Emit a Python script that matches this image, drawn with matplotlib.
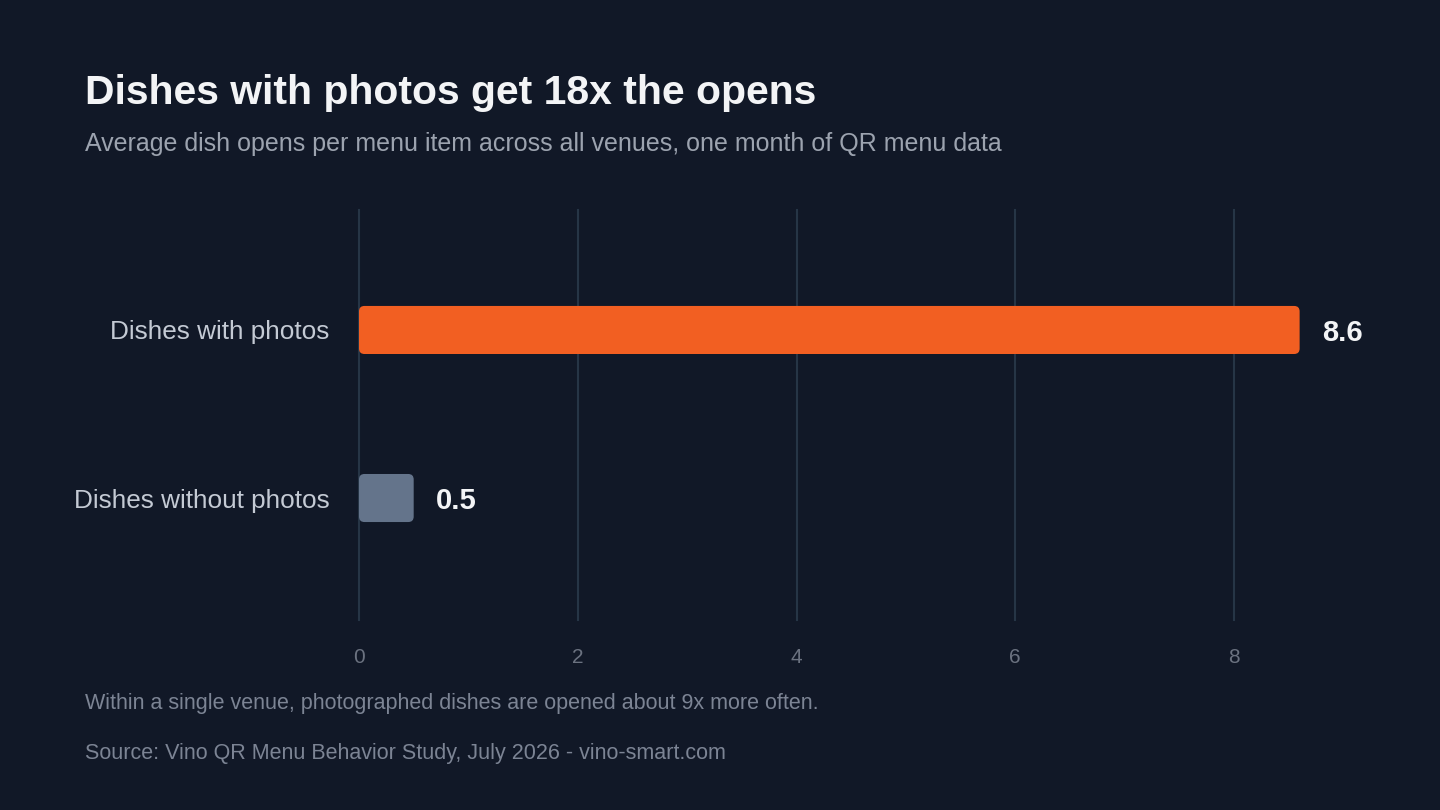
import matplotlib
matplotlib.use("Agg")
import matplotlib.pyplot as plt
from matplotlib.patches import FancyBboxPatch

# chart data
categories = ["Dishes with photos", "Dishes without photos"]
values = [8.6, 0.5]
value_labels = ["8.6", "0.5"]
bar_colors = ["#F25F22", "#64748B"]
x_ticks = [0, 2, 4, 6, 8]

title = "Dishes with photos get 18x the opens"
subtitle = "Average dish opens per menu item across all venues, one month of QR menu data"
note = "Within a single venue, photographed dishes are opened about 9x more often."
source = "Source: Vino QR Menu Behavior Study, July 2026 - vino-smart.com"

bg = "#111827"
grid_col = "#263546"

plt.rcParams['font.family'] = ['Liberation Sans', 'DejaVu Sans']

fig = plt.figure(figsize=(14.4, 8.1), dpi=100, facecolor=bg)
ax = fig.add_axes([359 / 1440, 1 - 620 / 810, 1050 / 1440, 410 / 810])
ax.set_facecolor(bg)

ypos = list(range(len(categories)))
bars = ax.barh(ypos, values, height=0.286, color=bar_colors)

ax.set_xlim(0, 1050 / 109.375)
ax.set_ylim(1.726, -0.714)

# swap plain bars for rounded ones
aspect = (1 / 168) / (1 / 109.375)
for b in bars:
    x0, y0 = b.get_x(), b.get_y()
    w, h = b.get_width(), b.get_height()
    rp = FancyBboxPatch((x0, y0), w, h,
                        boxstyle="round,pad=0,rounding_size=0.05",
                        mutation_aspect=aspect,
                        facecolor=b.get_facecolor(), edgecolor="none", zorder=3)
    ax.add_patch(rp)
    b.set_visible(False)

for y, v, lab in zip(ypos, values, value_labels):
    ax.annotate(lab, (v, y), xytext=(16, 0), textcoords="offset points",
                ha="left", va="center_baseline", color="#F3F4F6",
                fontsize=21, fontweight="bold")

ax.set_xticks(x_ticks)
ax.set_yticks(ypos)
ax.set_yticklabels(categories)
ax.grid(axis="x", color=grid_col, linewidth=1.5, zorder=0)
ax.set_axisbelow(True)
for gl in ax.get_xgridlines():
    gl.set_clip_on(False)
for s in ax.spines.values():
    s.set_visible(False)
ax.tick_params(axis="x", length=0, pad=20, labelsize=15, labelcolor="#6B7280")
ax.tick_params(axis="y", length=0, pad=21, labelsize=18.8, labelcolor="#C4CAD4")
for t in ax.get_yticklabels():
    t.set_verticalalignment("center_baseline")

fig.text(85 / 1440, 1 - 104 / 810, title, fontsize=29.4, fontweight="bold",
         color="#F3F4F6", ha="left", va="baseline")
fig.text(85 / 1440, 1 - 151 / 810, subtitle, fontsize=18,
         color="#9CA3AF", ha="left", va="baseline")
fig.text(85 / 1440, 1 - 704 / 810, note, fontsize=15.5,
         color="#7C8494", ha="left", va="center")
fig.text(85 / 1440, 1 - 754 / 810, source, fontsize=15.5,
         color="#7C8494", ha="left", va="center")

fig.savefig("out.png", dpi=100, facecolor=bg)
